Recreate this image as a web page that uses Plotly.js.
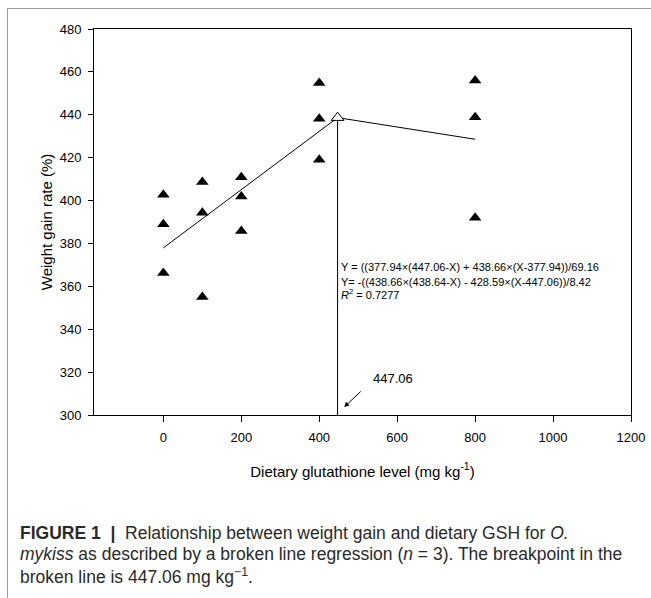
<!DOCTYPE html>
<html>
<head>
<meta charset="utf-8">
<script src="https://cdn.plot.ly/plotly-3.0.1.min.js"></script>
<style>
  html, body { margin: 0; padding: 0; background: #fff; }
  #wrap { position: relative; width: 651px; height: 598px; overflow: hidden; }
  #frame { position: absolute; left: 7px; top: 8px; width: 700px; height: 700px;
           border-top: 1px solid #9a9a9a; border-left: 1px solid #9a9a9a; pointer-events: none; }
  #chart { position: absolute; left: 0; top: 0; width: 651px; height: 598px; }
</style>
</head>
<body>
<div id="wrap">
  <div id="chart"></div>
  <div id="frame"></div>
</div>
<script>
// Observed data (dietary GSH level, weight gain rate %)
const doseLevels = [0, 0, 0, 100, 100, 100, 200, 200, 200, 400, 400, 400, 800, 800, 800];
const weightGain = [402.7, 388.9, 366.2, 408.6, 394.3, 355.0, 410.9, 401.9, 385.8, 454.8, 438.1, 419.0, 456.0, 438.9, 392.0];

// Broken-line regression
const fitX = [0, 447.06, 800];
const fitY = [377.94, 438.66, 428.59];

// Breakpoint
const breakX = [447.06];
const breakY = [438.66];
const dropX = [447.06, 447.06];
const dropY = [438.66, 300];

const xTicks = [0, 200, 400, 600, 800, 1000, 1200];
const yTicks = [300, 320, 340, 360, 380, 400, 420, 440, 460, 480];

const eqLines = [
  "Y = ((377.94×(447.06-X) + 438.66×(X-377.94))/69.16",
  "Y= -((438.66×(438.64-X) - 428.59×(X-447.06))/8.42",
  "<i>R</i><sup>2</sup> = 0.7277"
];
const eqY = [368.9, 362.0, 356.4];

const captionLines = [
  "<b>FIGURE 1</b>\u00a0 <b>|</b>\u00a0 Relationship between weight gain and dietary GSH for <i>O.</i>",
  "<i>mykiss</i> as described by a broken line regression (<i>n</i> = 3). The breakpoint in the",
  "broken line is 447.06 mg kg<sup>−1</sup>."
];
const captionPixelY = [533, 554, 576];

const traces = [
  { x: fitX, y: fitY, mode: "lines", line: { color: "#000", width: 1 }, hoverinfo: "skip" },
  { x: dropX, y: dropY, mode: "lines", line: { color: "#000", width: 1 }, hoverinfo: "skip" },
  { x: doseLevels, y: weightGain, mode: "markers",
    marker: { symbol: "triangle-up", size: 11, color: "#000", line: { width: 0 } } },
  { x: breakX, y: breakY, mode: "markers",
    marker: { symbol: "triangle-up", size: 11, color: "#fff", line: { color: "#000", width: 1 } } }
];

const M = { l: 94, r: 20, t: 29, b: 183 };
const W = 651, H = 598;
const pw = W - M.l - M.r, ph = H - M.t - M.b;

const annotations = eqLines.map((t, i) => ({
  x: 447.06, y: eqY[i], xref: "x", yref: "y", xanchor: "left", yanchor: "middle",
  xshift: 1, text: t, showarrow: false, font: { family: "Liberation Sans, Arial", size: 11, color: "#000" }
}));
annotations.push({
  x: 533, y: 317.2, xref: "x", yref: "y", xanchor: "left", yanchor: "middle",
  text: "447.06", showarrow: false, font: { family: "Liberation Sans, Arial", size: 13, color: "#000" }
});
annotations.push({
  x: 464, y: 303.7, xref: "x", yref: "y", text: "", showarrow: true,
  ax: 18, ay: -17, arrowhead: 2, arrowsize: 1, arrowwidth: 1, arrowcolor: "#000"
});
captionLines.forEach((t, i) => {
  annotations.push({
    x: (18 - M.l) / pw, y: (H - M.b - captionPixelY[i]) / ph, xref: "paper", yref: "paper",
    text: t, showarrow: false, align: "left", xanchor: "left", yanchor: "middle",
    font: { family: "Liberation Sans, Arial", size: 17.5, color: "#2a2a2a" }
  });
});

const layout = {
  width: W, height: H,
  margin: M,
  paper_bgcolor: "#fff", plot_bgcolor: "#fff",
  showlegend: false,
  font: { family: "Liberation Sans, Arial", color: "#000", size: 13 },
  xaxis: {
    range: [-178, 1200], tickvals: xTicks, ticks: "outside", ticklen: 6, tickcolor: "#000",
    showline: true, linecolor: "#000", linewidth: 1, mirror: true, showgrid: false, zeroline: false,
    tickfont: { size: 13 }, ticklabelstandoff: 4,
    title: { text: "Dietary glutathione level (mg kg<sup>-1</sup>)", font: { size: 15 }, standoff: 22 },
    automargin: false
  },
  yaxis: {
    range: [300, 480], tickvals: yTicks, ticks: "outside", ticklen: 5, tickcolor: "#000",
    showline: true, linecolor: "#000", linewidth: 1, mirror: true, showgrid: false, zeroline: false,
    tickfont: { size: 13 }, ticklabelstandoff: 4,
    title: { text: "Weight gain rate (%)", font: { size: 15 }, standoff: 3 },
    automargin: false
  },
  annotations: annotations
};

Plotly.newPlot("chart", traces, layout, { displayModeBar: false, staticPlot: true });
</script>
</body>
</html>
